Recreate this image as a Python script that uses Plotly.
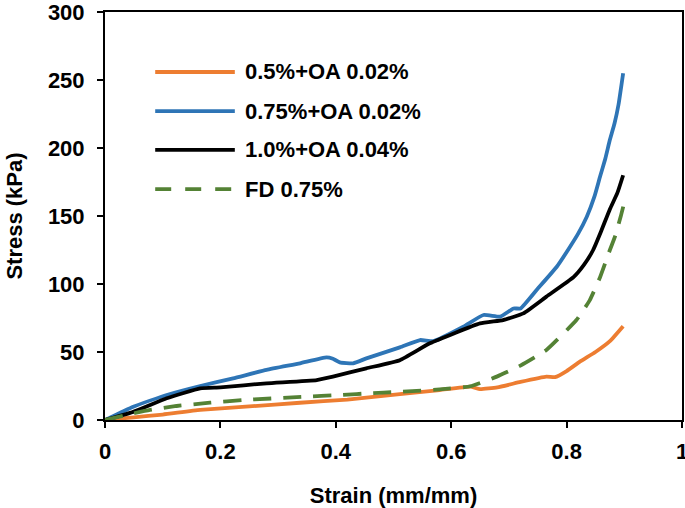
import plotly.graph_objects as go

# ---- data ----
orange_x = [0, 0.05, 0.1, 0.165, 0.25, 0.338, 0.42, 0.511, 0.58, 0.633, 0.65, 0.68, 0.72, 0.765, 0.78, 0.8, 0.823, 0.85, 0.875, 0.898]
orange_y = [0, 2, 4, 7.4, 10, 12.7, 15, 19, 22, 24.5, 22.7, 24, 28, 31.9, 31.5, 36, 42.9, 50, 58, 69]

blue_x = [0, 0.049, 0.107, 0.165, 0.222, 0.28, 0.338, 0.384, 0.395, 0.407, 0.43, 0.453, 0.511, 0.546, 0.569,
          0.621, 0.656, 0.685, 0.708, 0.72, 0.748, 0.783, 0.806, 0.82, 0.835, 0.848, 0.858, 0.867, 0.875, 0.883, 0.89, 0.898]
blue_y = [0, 9.8, 18.4, 25, 30.6, 36.8, 41.7, 46, 45, 42.4, 41.7, 45.3, 53.4, 58.8, 58,
          68.6, 77.2, 76, 82, 82, 95.6, 112.7, 127.4, 137, 149.5, 164, 179, 192, 206, 218, 232, 255]

black_x = [0, 0.049, 0.107, 0.165, 0.2, 0.28, 0.367, 0.395, 0.453, 0.511, 0.563, 0.65, 0.69, 0.725, 0.765,
           0.812, 0.83, 0.846, 0.86, 0.875, 0.888, 0.898]
black_y = [0, 6, 16, 23.3, 24, 27, 29.4, 31.9, 38, 44, 56.4, 71, 73.5, 78.4, 90.7,
           105, 114, 125, 139, 155, 167, 180]

green_x = [0, 0.04, 0.078, 0.124, 0.182, 0.24, 0.343, 0.407, 0.465, 0.5, 0.58, 0.633, 0.679, 0.72, 0.765,
           0.817, 0.84, 0.858, 0.875, 0.884, 0.894, 0.9]
green_y = [0, 4, 7.4, 10.3, 12.7, 14.7, 17, 18.4, 19.8, 20.5, 22.5, 24.8, 31.9, 40, 51.5,
           73.5, 88, 105, 125, 135, 150, 160]

series_names = ["0.5%+OA 0.02%", "0.75%+OA 0.02%", "1.0%+OA 0.04%", "FD 0.75%"]
x_ticks = [0, 0.2, 0.4, 0.6, 0.8, 1]
x_tick_labels = ["0", "0.2", "0.4", "0.6", "0.8", "1"]
y_ticks = [0, 50, 100, 150, 200, 250, 300]

colors = ["#ED7D31", "#2E75B6", "#000000", "#548235"]
dashes = ["solid", "solid", "solid", "18px,12px"]
FONT = "Liberation Sans, Arial, sans-serif"

fig = go.Figure()
data = [(orange_x, orange_y), (blue_x, blue_y), (black_x, black_y), (green_x, green_y)]
for (xs, ys), name, c, d in zip(data, series_names, colors, dashes):
    fig.add_trace(go.Scatter(x=xs, y=ys, mode="lines", name=name, showlegend=False,
                             line=dict(color=c, width=3.8, dash=d, shape="spline", smoothing=0.4)))

# manual legend
leg_y = [0.853, 0.757, 0.662, 0.566]
for name, c, d, yy in zip(series_names, colors, dashes, leg_y):
    fig.add_shape(type="line", xref="paper", yref="paper", x0=0.087, x1=0.225, y0=yy, y1=yy,
                  line=dict(color=c, width=3.8, dash="16px,14px" if d != "solid" else d))
    fig.add_annotation(xref="paper", yref="paper", x=0.24, y=yy, text=name, showarrow=False,
                       xanchor="left", yanchor="middle",
                       font=dict(family=FONT, size=22, color="black", weight="bold"))

axis_common = dict(showgrid=False, zeroline=False, showline=True, linecolor="black", linewidth=2,
                   mirror=True, ticks="outside", ticklen=6, tickcolor="black", tickwidth=2,
                   automargin=False, ticklabeloverflow="allow",
                   tickfont=dict(family=FONT, size=22, color="black", weight="bold"))

fig.update_xaxes(range=[0, 1], tickvals=x_ticks, ticktext=x_tick_labels, ticklabelstandoff=5,
                 title=dict(text="Strain (mm/mm)", standoff=24,
                            font=dict(family=FONT, size=22, color="black", weight="bold")),
                 **axis_common)
fig.update_yaxes(range=[0, 300], tickvals=y_ticks, ticklabelstandoff=8,
                 title=dict(text="Stress (kPa)", standoff=19,
                            font=dict(family=FONT, size=22, color="black", weight="bold")),
                 **axis_common)

fig.update_layout(width=685, height=508, margin=dict(l=105, r=3, t=12, b=88),
                  plot_bgcolor="white", paper_bgcolor="white", showlegend=False)

fig.write_html("out.html", config={"displayModeBar": False},
               post_script="document.body.style.margin='0';")
